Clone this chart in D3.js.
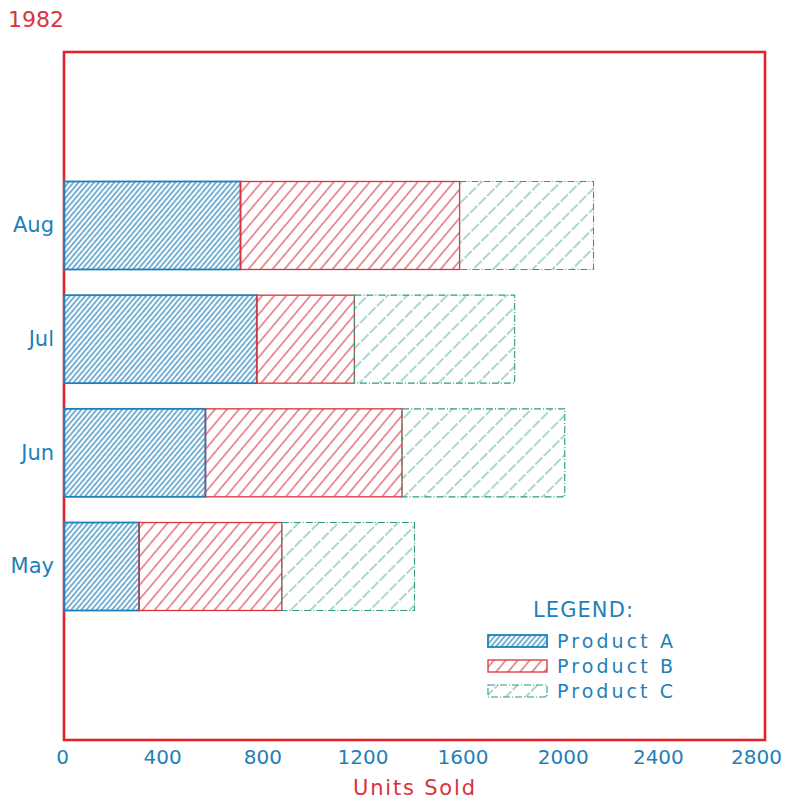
<!DOCTYPE html>
<html>
<head>
<meta charset="utf-8">
<script src="https://cdn.jsdelivr.net/npm/d3@7"></script>
<style>
  html, body { margin: 0; padding: 0; background: #ffffff; }
  svg { display: block; }
  text { font-family: "DejaVu Sans", sans-serif; }
</style>
</head>
<body>
<div id="chart"></div>
<script>
// ---- data ----
const months = ["May", "Jun", "Jul", "Aug"];
const productA = [300, 565, 770, 705];
const productB = [570, 785, 390, 875];
const productC = [530, 650, 640, 535];
const products = ["Product A", "Product B", "Product C"];
const xTicks = [0, 400, 800, 1200, 1600, 2000, 2400, 2800];
const title = "1982";
const xTitle = "Units Sold";
const legendTitle = "LEGEND:";

const W = 794, H = 802;
const frame = { left: 64, right: 765, top: 52, bottom: 740 };

const blue = "#1f80b9", red = "#d9333d", green = "#2f9c7e", frameRed = "#e3222b";

const svg = d3.select("#chart").append("svg").attr("width", W).attr("height", H);
const defs = svg.append("defs");

function hatch(id, color, spacing, angle, width, dash, opacity) {
  const h = dash ? 24 : spacing;
  const p = defs.append("pattern")
    .attr("id", id)
    .attr("patternUnits", "userSpaceOnUse")
    .attr("width", spacing).attr("height", h)
    .attr("patternTransform", `rotate(${angle})`);
  const l = p.append("line")
    .attr("x1", spacing / 2).attr("x2", spacing / 2)
    .attr("y1", 0).attr("y2", h)
    .attr("stroke", color).attr("stroke-width", width)
    .attr("stroke-opacity", opacity);
  if (dash) l.attr("stroke-dasharray", dash);
}
hatch("hA", blue, 3.9, 40, 1.2, null, 1);
hatch("hB", red, 9.2, 40, 1.1, null, 0.95);
hatch("hC", green, 14, 45, 1.0, "10,2", 0.8);

const styles = [
  { fill: "url(#hA)", stroke: blue, sw: 1.8, dash: null },
  { fill: "url(#hB)", stroke: red, sw: 1.3, dash: null },
  { fill: "url(#hC)", stroke: green, sw: 1.1, dash: "7,2,1,2" }
];

const x = d3.scaleLinear().domain([0, 2800]).range([frame.left, frame.right]);
const y = d3.scaleBand().domain(months.slice().reverse())
  .range([frame.top, frame.bottom]).paddingInner(0.226).paddingOuter(1.139);

// stacked data
const table = months.map((m, i) => ({ month: m, A: productA[i], B: productB[i], C: productC[i] }));
const stack = d3.stack().keys(["A", "B", "C"])(table);

// frame
svg.append("rect")
  .attr("x", frame.left).attr("y", frame.top)
  .attr("width", frame.right - frame.left).attr("height", frame.bottom - frame.top)
  .attr("fill", "none").attr("stroke", frameRed).attr("stroke-width", 2.6);

// bars
stack.forEach((layer, k) => {
  const st = styles[k];
  svg.append("g").selectAll("rect").data(layer).join("rect")
    .attr("x", d => x(d[0]))
    .attr("y", d => y(d.data.month))
    .attr("width", d => x(d[1]) - x(d[0]))
    .attr("height", y.bandwidth())
    .attr("fill", st.fill)
    .attr("stroke", st.stroke)
    .attr("stroke-width", st.sw)
    .attr("stroke-dasharray", st.dash);
});

// x axis
const xAxis = svg.append("g")
  .attr("transform", `translate(-2,${frame.bottom})`)
  .call(d3.axisBottom(x).tickValues(xTicks).tickSize(0).tickPadding(10).tickFormat(d3.format("d")));
xAxis.select(".domain").remove();
xAxis.selectAll("text")
  .attr("fill", blue).style("font-size", "20px")
  .style("font-family", "DejaVu Sans, sans-serif");
// plotter label drift at the right end
xAxis.selectAll(".tick").filter(d => d >= 2400)
  .select("text").attr("dx", d => (d === 2400 ? -5 : -7));

// y axis labels
const yAxis = svg.append("g")
  .attr("transform", `translate(${frame.left - 10},0)`)
  .call(d3.axisLeft(y).tickSize(0).tickPadding(0));
yAxis.select(".domain").remove();
yAxis.selectAll("text")
  .attr("fill", blue).style("font-size", "21px")
  .style("font-family", "DejaVu Sans, sans-serif");

// title
svg.append("text").attr("x", 8).attr("y", 27)
  .attr("fill", red).style("font-size", "22px").text(title);

// x title
svg.append("text").attr("x", 353).attr("y", 795)
  .attr("fill", red).style("font-size", "21px")
  .attr("textLength", 122).attr("lengthAdjust", "spacing").text(xTitle);

// legend
svg.append("text").attr("x", 533).attr("y", 617)
  .attr("fill", blue).style("font-size", "21px")
  .attr("textLength", 100).attr("lengthAdjust", "spacing").text(legendTitle);

const lg = svg.append("g").selectAll("g").data(products).join("g")
  .attr("transform", (d, i) => `translate(488,${635 + i * 25})`);
lg.append("rect")
  .attr("width", 59).attr("height", 12)
  .attr("fill", (d, i) => styles[i].fill)
  .attr("stroke", (d, i) => styles[i].stroke)
  .attr("stroke-width", (d, i) => styles[i].sw)
  .attr("stroke-dasharray", (d, i) => styles[i].dash);
lg.append("text")
  .attr("x", 69).attr("y", 13)
  .attr("fill", blue).style("font-size", "19px")
  .attr("textLength", 116).attr("lengthAdjust", "spacing")
  .text(d => d);
</script>
</body>
</html>
